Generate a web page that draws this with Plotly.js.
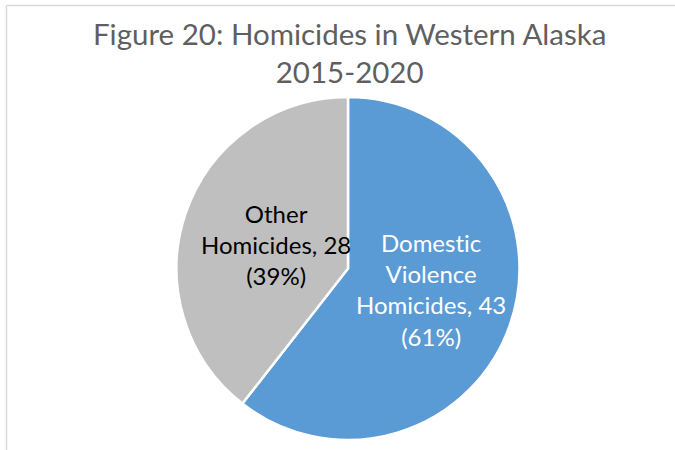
<!DOCTYPE html>
<html>
<head>
<meta charset="utf-8">
<script src="https://cdn.plot.ly/plotly-3.0.1.min.js"></script>
<style>html,body{margin:0;padding:0;background:#fff;}#chart{width:675px;height:450px;}
svg text{font-variant-ligatures:none;font-feature-settings:"liga" 0;}</style>
</head>
<body>
<div id="chart"></div>
<script>
const categories = ["Domestic Violence Homicides", "Other Homicides"];
const labelLines = ["Domestic<br>Violence<br>Homicides", "Other<br>Homicides"];
const values = [43, 28];
const colors = ["#5B9BD5", "#BFBFBF"];
const labelColors = ["#FFFFFF", "#000000"];
const titleText = "Figure 20: Homicides in Western Alaska<br>2015-2020";

const total = values.reduce((a, b) => a + b, 0);
const pcts = values.map(v => Math.round(100 * v / total));

const FONT = "Lato, 'Open Sans', sans-serif";

const trace = {
  type: "pie",
  labels: categories,
  values: values,
  sort: false,
  direction: "clockwise",
  rotation: 0,
  textinfo: "none",
  hoverinfo: "label+value+percent",
  marker: { colors: colors, line: { color: "#FFFFFF", width: 2.5 } },
  domain: { x: [176.5 / 675, 519.5 / 675], y: [1 - 440 / 450, 1 - 97 / 450] },
  showlegend: false
};

// label anchor positions (pixels) for each slice
const labelPos = [[431, 289], [276, 245]];
const annotations = categories.map((c, i) => ({
  xref: "paper", yref: "paper",
  x: labelPos[i][0] / 675, y: 1 - labelPos[i][1] / 450,
  xanchor: "center", yanchor: "middle",
  showarrow: false,
  align: "center",
  text: labelLines[i] + ", " + values[i] + "<br>(" + pcts[i] + "%)",
  font: { family: FONT, size: 24, color: labelColors[i] }
}));

annotations.push({
  xref: "paper", yref: "paper",
  x: 349.5 / 675, y: 1 - 53 / 450,
  xanchor: "center", yanchor: "middle",
  showarrow: false, align: "center",
  text: titleText,
  font: { family: FONT, size: 29.5, color: "#5f5f5f" }
});

const layout = {
  width: 675, height: 450,
  margin: { l: 0, r: 0, t: 0, b: 0 },
  paper_bgcolor: "#FFFFFF",
  plot_bgcolor: "#FFFFFF",
  annotations: annotations,
  shapes: [
    { type: "line", xref: "paper", yref: "paper", x0: 6.5 / 675, x1: 1, y0: 1 - 5.5 / 450, y1: 1 - 5.5 / 450, line: { color: "#D9D9D9", width: 1.5 } },
    { type: "line", xref: "paper", yref: "paper", x0: 6.5 / 675, x1: 6.5 / 675, y0: 0, y1: 1 - 5.5 / 450, line: { color: "#D9D9D9", width: 1.5 } }
  ]
};

Plotly.newPlot("chart", [trace], layout, { displayModeBar: false, staticPlot: true });
</script>
</body>
</html>
